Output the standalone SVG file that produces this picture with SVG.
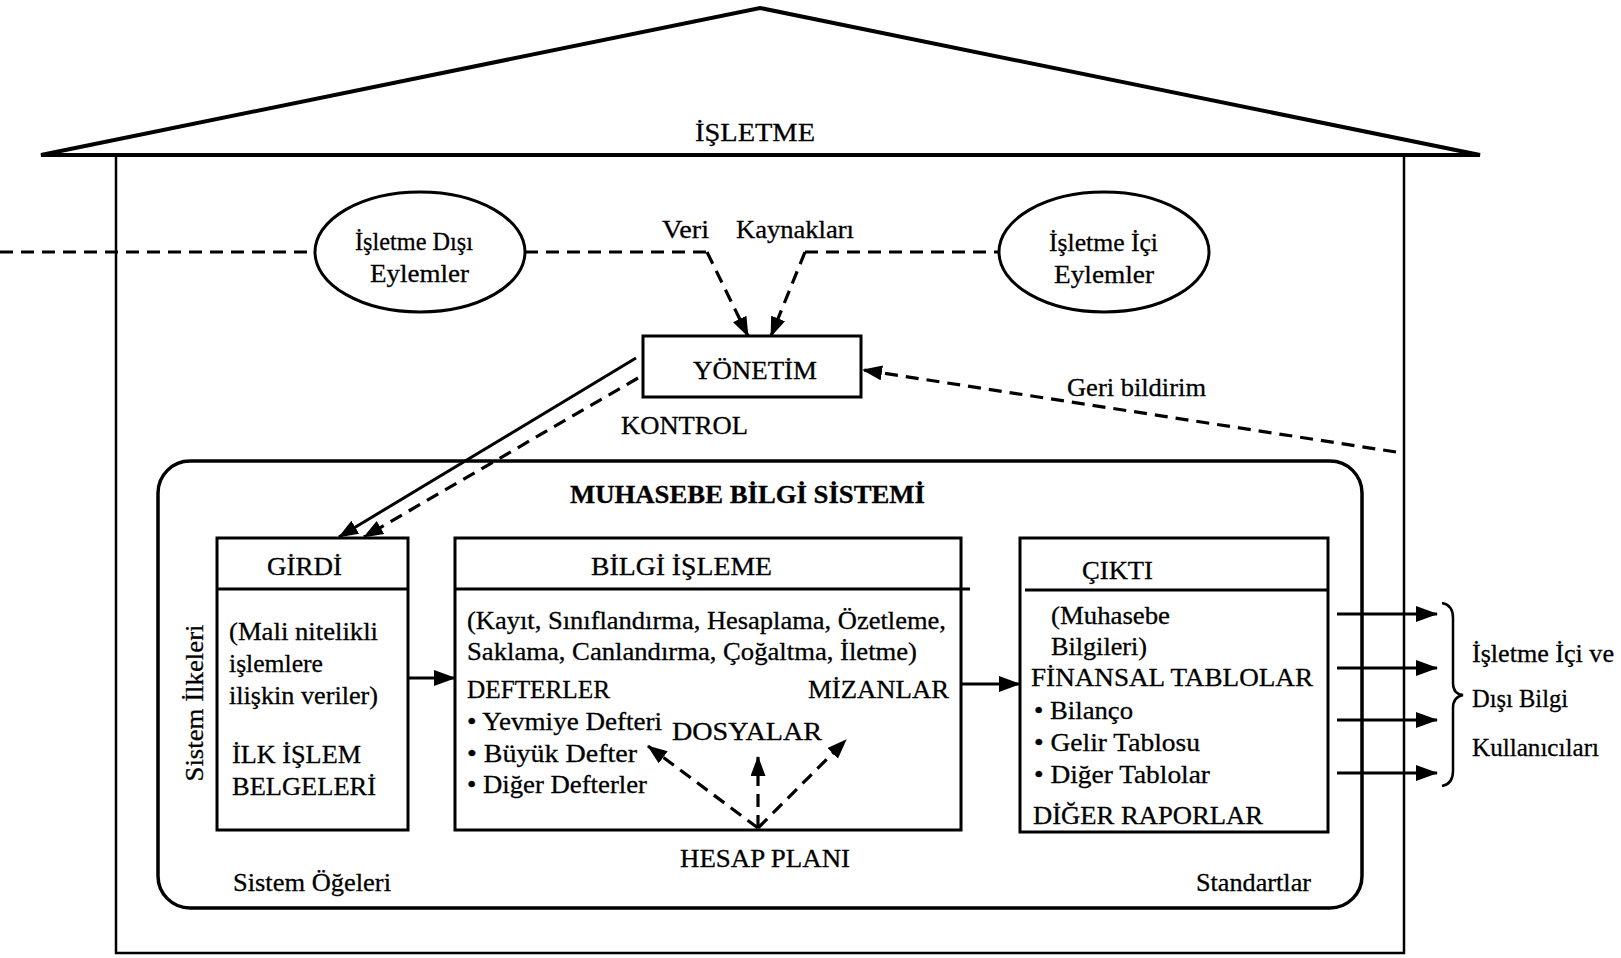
<svg xmlns="http://www.w3.org/2000/svg" width="1621" height="958" viewBox="0 0 1621 958">
<style>
text{font-family:"Liberation Serif","Times New Roman",serif;font-size:26px;fill:#000;stroke:#000;stroke-width:0.3}
.b{font-weight:bold}
.ln{fill:none;stroke:#000;stroke-width:3}
.ds{fill:none;stroke:#000;stroke-width:3.2;stroke-dasharray:13 8}
.box{fill:#fff;stroke:#000;stroke-width:3}
</style>
<defs>
<marker id="ah" viewBox="0 0 22 16" refX="21" refY="8" markerWidth="22" markerHeight="16" orient="auto" markerUnits="userSpaceOnUse"><path d="M0,0 L22,8 L0,16 z" fill="#000"/></marker>
<marker id="as" viewBox="0 0 20 15" refX="19" refY="7.5" markerWidth="20" markerHeight="15" orient="auto" markerUnits="userSpaceOnUse"><path d="M0,0 L20,7.5 L0,15 z" fill="#000"/></marker>
</defs>
<rect width="1621" height="958" fill="#fff"/>

<g id="house">
<path d="M41,155 L760,8 L1480,155 Z" fill="none" stroke="#000" stroke-width="4" stroke-linejoin="miter"/>
<path d="M116,155 L116,953 L1404,953 L1404,155" fill="none" stroke="#000" stroke-width="2.5"/>
<text x="695" y="141" textLength="120" lengthAdjust="spacingAndGlyphs">İŞLETME</text>
</g>

<g id="external-events">
<ellipse cx="420" cy="252" rx="105" ry="60" class="box"/>
<text x="355" y="250" textLength="118" lengthAdjust="spacingAndGlyphs">İşletme Dışı</text>
<text x="370" y="282" textLength="99" lengthAdjust="spacingAndGlyphs">Eylemler</text>
</g>

<g id="internal-events">
<ellipse cx="1104" cy="252" rx="105" ry="60" class="box"/>
<text x="1049" y="251" textLength="109" lengthAdjust="spacingAndGlyphs">İşletme İçi</text>
<text x="1054" y="283" textLength="100" lengthAdjust="spacingAndGlyphs">Eylemler</text>
</g>

<g id="data-sources">
<text x="662" y="238" textLength="47" lengthAdjust="spacingAndGlyphs">Veri</text>
<text x="736" y="238" textLength="118" lengthAdjust="spacingAndGlyphs">Kaynakları</text>
</g>

<g id="management">
<rect x="643" y="336" width="218" height="61" class="box"/>
<text x="693" y="379" textLength="124" lengthAdjust="spacingAndGlyphs">YÖNETİM</text>
</g>

<g id="labels">
<text x="621" y="434" textLength="127" lengthAdjust="spacingAndGlyphs">KONTROL</text>
<text x="1067" y="396" textLength="139" lengthAdjust="spacingAndGlyphs">Geri bildirim</text>
</g>

<g id="accounting-system">
<rect x="158" y="461" width="1204" height="447" rx="32" ry="32" fill="none" stroke="#000" stroke-width="3.5"/>
<text class="b" x="570" y="503" textLength="355" lengthAdjust="spacingAndGlyphs">MUHASEBE BİLGİ SİSTEMİ</text>
<text transform="translate(203,703) rotate(-90)" text-anchor="middle" textLength="157" lengthAdjust="spacingAndGlyphs">Sistem İlkeleri</text>
<text x="233" y="891" textLength="158" lengthAdjust="spacingAndGlyphs">Sistem Öğeleri</text>
<text x="1196" y="891" textLength="115" lengthAdjust="spacingAndGlyphs">Standartlar</text>
<text x="680" y="867" textLength="170" lengthAdjust="spacingAndGlyphs">HESAP PLANI</text>
</g>

<g id="input">
<rect x="217" y="538" width="191" height="292" class="box"/>
<line x1="217" y1="589" x2="408" y2="589" class="ln"/>
<text x="267" y="575" textLength="75" lengthAdjust="spacingAndGlyphs">GİRDİ</text>
<text x="229" y="640" textLength="149" lengthAdjust="spacingAndGlyphs">(Mali nitelikli</text>
<text x="229" y="672" textLength="94" lengthAdjust="spacingAndGlyphs">işlemlere</text>
<text x="229" y="704" textLength="149" lengthAdjust="spacingAndGlyphs">ilişkin veriler)</text>
<text x="232" y="763" textLength="129" lengthAdjust="spacingAndGlyphs">İLK İŞLEM</text>
<text x="232" y="795" textLength="144" lengthAdjust="spacingAndGlyphs">BELGELERİ</text>
</g>

<g id="processing">
<rect x="455" y="538" width="506" height="292" class="box"/>
<line x1="455" y1="589" x2="970" y2="589" class="ln"/>
<text x="591" y="575" textLength="181" lengthAdjust="spacingAndGlyphs">BİLGİ  İŞLEME</text>
<text x="467" y="629" textLength="479" lengthAdjust="spacingAndGlyphs">(Kayıt, Sınıflandırma, Hesaplama, Özetleme,</text>
<text x="467" y="660" textLength="450" lengthAdjust="spacingAndGlyphs">Saklama, Canlandırma, Çoğaltma, İletme)</text>
<text x="467" y="698" textLength="143" lengthAdjust="spacingAndGlyphs">DEFTERLER</text>
<text x="808" y="698" textLength="141" lengthAdjust="spacingAndGlyphs">MİZANLAR</text>
<text x="467" y="730" textLength="195" lengthAdjust="spacingAndGlyphs">• Yevmiye Defteri</text>
<text x="672" y="740" textLength="150" lengthAdjust="spacingAndGlyphs">DOSYALAR</text>
<text x="467" y="762" textLength="170" lengthAdjust="spacingAndGlyphs">• Büyük  Defter</text>
<text x="467" y="793" textLength="180" lengthAdjust="spacingAndGlyphs">• Diğer Defterler</text>
</g>

<g id="output">
<rect x="1020" y="538" width="308" height="294" class="box"/>
<line x1="1025" y1="590" x2="1328" y2="590" class="ln"/>
<text x="1082" y="579" textLength="71" lengthAdjust="spacingAndGlyphs">ÇIKTI</text>
<text x="1051" y="624" textLength="119" lengthAdjust="spacingAndGlyphs">(Muhasebe</text>
<text x="1051" y="655" textLength="96" lengthAdjust="spacingAndGlyphs">Bilgileri)</text>
<text x="1031" y="686" textLength="282" lengthAdjust="spacingAndGlyphs">FİNANSAL TABLOLAR</text>
<text x="1034" y="719" textLength="99" lengthAdjust="spacingAndGlyphs">• Bilanço</text>
<text x="1034" y="751" textLength="166" lengthAdjust="spacingAndGlyphs">• Gelir Tablosu</text>
<text x="1034" y="783" textLength="176" lengthAdjust="spacingAndGlyphs">• Diğer Tablolar</text>
<text x="1033" y="824" textLength="230" lengthAdjust="spacingAndGlyphs">DİĞER RAPORLAR</text>
</g>

<g id="users">
<path d="M1442,603 Q1453,605 1453,618 L1453,683 Q1453,694 1463,695 Q1453,697 1453,708 L1453,771 Q1453,784 1442,786" fill="none" stroke="#000" stroke-width="2.5"/>
<text x="1472" y="662" textLength="142" lengthAdjust="spacingAndGlyphs">İşletme İçi ve</text>
<text x="1472" y="707" textLength="96" lengthAdjust="spacingAndGlyphs">Dışı Bilgi</text>
<text x="1472" y="756" textLength="127" lengthAdjust="spacingAndGlyphs">Kullanıcıları</text>
</g>

<g id="connectors">
<line x1="0" y1="252" x2="315" y2="252" class="ds"/>
<line x1="525" y1="252" x2="707" y2="252" class="ds"/>
<line x1="805" y1="252" x2="999" y2="252" class="ds"/>
<line x1="707" y1="252" x2="748" y2="336" class="ds" marker-end="url(#as)"/>
<line x1="805" y1="252" x2="771" y2="336" class="ds" marker-end="url(#as)"/>
<line x1="1396" y1="452" x2="863" y2="370" class="ds" marker-end="url(#as)"/>
<line x1="636" y1="358" x2="339" y2="537" class="ln" stroke-width="4" marker-end="url(#as)"/>
<line x1="638" y1="378" x2="364" y2="537" class="ds" marker-end="url(#as)"/>
<line x1="408" y1="678" x2="455" y2="678" class="ln" marker-end="url(#ah)"/>
<line x1="961" y1="684" x2="1020" y2="684" class="ln" stroke-width="3.5" marker-end="url(#ah)"/>
<line x1="758" y1="828" x2="648" y2="746" class="ds" marker-end="url(#as)"/>
<line x1="758" y1="828" x2="758" y2="757" class="ds" marker-end="url(#as)"/>
<line x1="758" y1="828" x2="846" y2="740" class="ds" marker-end="url(#as)"/>
<line x1="1337" y1="614" x2="1437" y2="614" class="ln" stroke-width="3.5" marker-end="url(#ah)"/>
<line x1="1337" y1="668" x2="1437" y2="668" class="ln" stroke-width="3.5" marker-end="url(#ah)"/>
<line x1="1337" y1="720" x2="1437" y2="720" class="ln" stroke-width="3.5" marker-end="url(#ah)"/>
<line x1="1337" y1="773" x2="1437" y2="773" class="ln" stroke-width="3.5" marker-end="url(#ah)"/>
</g>
</svg>
